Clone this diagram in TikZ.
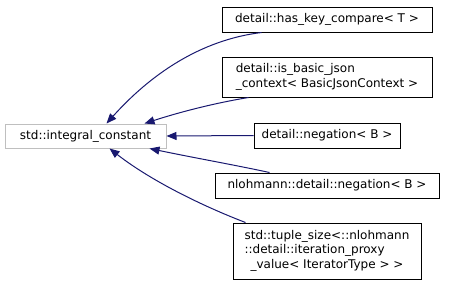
\documentclass[tikz,border=0pt]{standalone}
\usepackage{fontspec}
\setmainfont{DejaVu Sans}
\usetikzlibrary{arrows.meta,calc}
\definecolor{edgeblue}{HTML}{191970}
\definecolor{basegray}{HTML}{BFBFBF}
\begin{document}
\begin{tikzpicture}[x=1pt,y=-1pt,
  box/.style={draw=black,line width=1pt,inner sep=0pt,font=\fontsize{12}{14.6}\selectfont},
  basebox/.style={box,draw=basegray},
  edge/.style={draw=edgeblue,line width=1pt,{Triangle[length=10pt,width=8pt]}-}]
\useasboundingbox (0,0) rectangle (457,285);
% base class
\node[basebox,minimum width=161pt,minimum height=24pt] (base) at (85.5,136) {std::integral\_constant};
% derived classes
\node[box,minimum width=210pt,minimum height=25pt] (b1) at (327,19.5) {detail::has\_key\_compare< T >};
\node[box,minimum width=210pt,minimum height=40pt] (b2) at (327,77)
  {\begin{tabular}{@{}l@{}}detail::is\_basic\_json\\\_context< BasicJsonContext >\end{tabular}};
\node[box,minimum width=146pt,minimum height=25pt] (b3) at (327,135.5) {detail::negation< B >};
\node[box,minimum width=224pt,minimum height=25pt] (b4) at (327,185.5) {nlohmann::detail::negation< B >};
\node[box,minimum width=188pt,minimum height=56pt] (b5) at (327,251)
  {\begin{tabular}{@{}l@{}}std::tuple\_size<::nlohmann\\::detail::iteration\_proxy\\\multicolumn{1}{@{}c@{}}{\_value< IteratorType > >}\end{tabular}};
% inheritance edges
\coordinate (t1) at ($(base.north west)+(102,0)$);
\coordinate (t2) at ($(base.north west)+(140,0)$);
\coordinate (t4) at ($(base.south west)+(145,0)$);
\coordinate (t5) at ($(base.south west)+(105,0)$);
\coordinate (s1) at ($(b1.south west)+(40,0)$);
\coordinate (s2) at ($(b2.south west)+(27,0)$);
\coordinate (s4) at ($(b4.north west)+(55,0)$);
\coordinate (s5) at ($(b5.north west)+(13,0)$);
\draw[edge] (t1) .. controls (150,75) and (200,40) .. (s1);
\draw[edge] (t2) .. controls (180,112) and (215,103) .. (s2);
\draw[edge] (base.east) -- (b3.west);
\draw[edge] (t4) .. controls (195,158) and (235,165) .. (s4);
\draw[edge] (t5) .. controls (150,180) and (200,205) .. (s5);
\end{tikzpicture}
\end{document}
